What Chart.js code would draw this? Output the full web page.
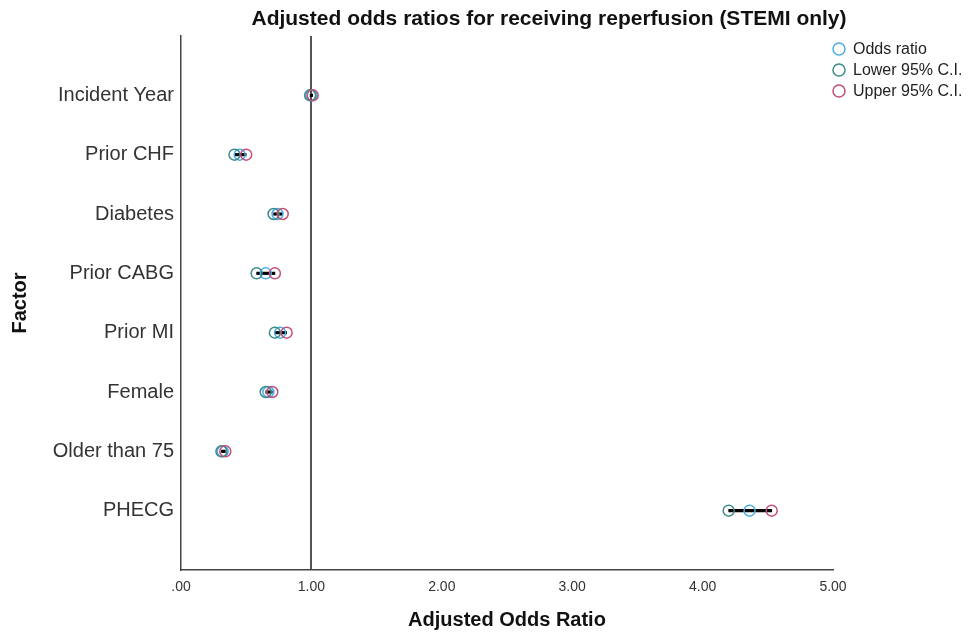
<!DOCTYPE html>
<html>
<head>
<meta charset="utf-8">
<script src="https://cdn.jsdelivr.net/npm/chart.js@4"></script>
<style>
  body { margin: 0; background: #fff; }
  canvas { display: block; }
</style>
</head>
<body>
<canvas id="myChart" width="969" height="635"></canvas>
<script>
const factors = ['Incident Year', 'Prior CHF', 'Diabetes', 'Prior CABG', 'Prior MI', 'Female', 'Older than 75', 'PHECG'];
const oddsRatio = [1.00, 0.45, 0.74, 0.65, 0.76, 0.67, 0.32, 4.36];
const lower95 = [0.99, 0.41, 0.71, 0.58, 0.72, 0.65, 0.31, 4.20];
const upper95 = [1.01, 0.50, 0.78, 0.72, 0.81, 0.70, 0.34, 4.53];
const xTicks = [0, 1, 2, 3, 4, 5];

const FONT = "'Liberation Sans', Arial, sans-serif";
const colOR = '#4aaee6';
const colLow = '#3a8c8a';
const colUp = '#c44d7a';

// empty slots at both ends give the half-step padding above and below
const yLabels = [''].concat(factors, ['']);

const points = vals => vals.map((v, i) => ({ x: v, y: factors[i] }));

const legendItems = [
  { text: 'Odds ratio', color: colOR },
  { text: 'Lower 95% C.I.', color: colLow },
  { text: 'Upper 95% C.I.', color: colUp }
];

const extras = {
  id: 'extras',
  afterDraw(chart) {
    const c = chart.ctx;
    c.save();
    c.fillStyle = '#111';
    c.font = 'bold 21px ' + FONT;
    c.textAlign = 'center';
    c.textBaseline = 'middle';
    c.fillText('Adjusted odds ratios for receiving reperfusion (STEMI only)', 549, 19);

    c.font = '16px ' + FONT;
    c.textAlign = 'left';
    legendItems.forEach((it, i) => {
      const y = 49 + i * 21;
      c.beginPath();
      c.arc(839, y, 6, 0, Math.PI * 2);
      c.strokeStyle = it.color;
      c.lineWidth = 1.5;
      c.stroke();
      c.fillStyle = '#222';
      c.fillText(it.text, 853, y + 1);
    });
    c.restore();
  }
};

const ctx = document.getElementById('myChart').getContext('2d');

new Chart(ctx, {
  type: 'bar',
  data: {
    labels: yLabels,
    datasets: [
      {
        type: 'line',
        label: 'Upper 95% C.I.',
        data: points(upper95),
        showLine: false,
        pointRadius: 5.5,
        pointBorderWidth: 1.5,
        pointBackgroundColor: 'rgba(0,0,0,0)',
        pointBorderColor: colUp,
        order: 1
      },
      {
        type: 'line',
        label: 'Lower 95% C.I.',
        data: points(lower95),
        showLine: false,
        pointRadius: 5.5,
        pointBorderWidth: 1.5,
        pointBackgroundColor: 'rgba(0,0,0,0)',
        pointBorderColor: colLow,
        order: 2
      },
      {
        type: 'line',
        label: 'Odds ratio',
        data: points(oddsRatio),
        showLine: false,
        pointRadius: 5.5,
        pointBorderWidth: 1.5,
        pointBackgroundColor: 'rgba(0,0,0,0)',
        pointBorderColor: colOR,
        order: 3
      },
      {
        type: 'bar',
        label: 'CI',
        data: lower95.map((lo, i) => ({ x: [lo, upper95[i]], y: factors[i] })),
        backgroundColor: '#000',
        barThickness: 2.5,
        order: 4
      }
    ]
  },
  options: {
    indexAxis: 'y',
    responsive: false,
    animation: false,
    events: [],
    layout: { padding: { top: 36, right: 136, bottom: 0, left: 0 } },
    plugins: {
      legend: { display: false },
      title: { display: false },
      tooltip: { enabled: false }
    },
    scales: {
      x: {
        type: 'linear',
        min: 0,
        max: 5,
        afterBuildTicks: s => { s.ticks = xTicks.map(v => ({ value: v })); },
        afterFit: s => { s.height = 65; },
        border: { display: true, color: '#444', width: 1.5 },
        grid: {
          drawTicks: false,
          lineWidth: 2,
          color: c => (c.tick && c.tick.value === 1 ? '#555' : 'rgba(0,0,0,0)')
        },
        ticks: {
          padding: 9,
          color: '#333',
          font: { family: FONT, size: 14 },
          callback: v => (v === 0 ? '.00' : v.toFixed(2))
        },
        title: {
          display: true,
          text: 'Adjusted Odds Ratio',
          color: '#111',
          font: { family: FONT, size: 20, weight: 'bold' },
          padding: { top: 0, bottom: 3 }
        }
      },
      y: {
        type: 'category',
        offset: false,
        afterFit: s => { s.width = 181; },
        border: { display: true, color: '#444', width: 1.5 },
        grid: { display: false, drawTicks: false },
        ticks: {
          padding: 7,
          autoSkip: false,
          color: '#333',
          font: { family: FONT, size: 20 }
        },
        title: {
          display: true,
          text: 'Factor',
          color: '#111',
          font: { family: FONT, size: 20, weight: 'bold' },
          padding: { top: 8, bottom: 0 }
        }
      }
    }
  },
  plugins: [extras]
});
</script>
</body>
</html>
